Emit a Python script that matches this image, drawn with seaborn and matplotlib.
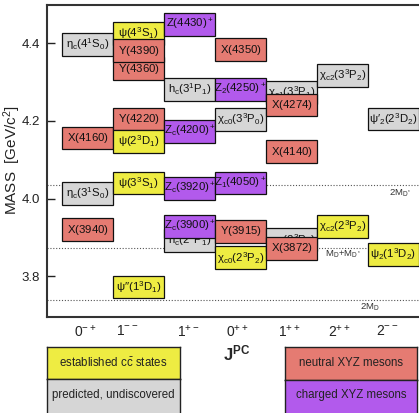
import matplotlib
matplotlib.use("Agg")
import matplotlib.pyplot as plt
import seaborn as sns

# ---------------- data ----------------
names = [
    r"$η_c(4^1S_0)$", r"$X(4160)$", r"$η_c(3^1S_0)$", r"$X(3940)$",
    r"$ψ(4^3S_1)$", r"$Y(4360)$", r"$Y(4390)$", r"$Y(4220)$", r"$ψ(2^3D_1)$",
    r"$ψ(3^3S_1)$", r"$ψ′′(1^3D_1)$",
    r"$Z(4430)^+$", r"$h_c(3^1P_1)$", r"$Z_c(4200)^+$", r"$Z_c(3920)^+$",
    r"$h_c(2^1P_1)$", r"$Z_c(3900)^+$",
    r"$X(4350)$", r"$Z_2(4250)^+$", r"$χ_{c0}(3^3P_0)$", r"$Z_1(4050)^+$",
    r"$Y(3915)$", r"$χ_{c0}(2^3P_2)$",
    r"$χ_{c1}(3^3P_1)$", r"$X(4274)$", r"$X(4140)$", r"$χ_{c1}(2^3P_1)$", r"$X(3872)$",
    r"$χ_{c2}(3^3P_2)$", r"$χ_{c2}(2^3P_2)$",
    r"$ψ′_2(2^3D_2)$", r"$ψ_2(1^3D_2)$",
]
cols = [0, 0, 0, 0,
        1, 1, 1, 1, 1, 1, 1,
        2, 2, 2, 2, 2, 2,
        3, 3, 3, 3, 3, 3,
        4, 4, 4, 4, 4,
        5, 5,
        6, 6]
masses = [4.397, 4.156, 4.014, 3.919,
          4.425, 4.335, 4.381, 4.205, 4.147, 4.040, 3.772,
          4.448, 4.281, 4.173, 4.026, 3.892, 3.928,
          4.384, 4.281, 4.204, 4.040, 3.916, 3.847,
          4.273, 4.241, 4.121, 3.894, 3.872,
          4.318, 3.928,
          4.205, 3.856]
kinds = ["pred", "neu", "pred", "neu",
         "est", "neu", "neu", "neu", "est", "est", "est",
         "chg", "pred", "chg", "chg", "pred", "chg",
         "neu", "chg", "pred", "chg", "neu", "est",
         "pred", "neu", "neu", "pred", "neu",
         "pred", "est",
         "pred", "est"]

jpc_labels = [r"$0^{-+}$", r"$1^{--}$", r"$1^{+-}$", r"$0^{++}$",
              r"$1^{++}$", r"$2^{++}$", r"$2^{--}$"]
thresh_names = [r"$2M_{D^*}$", r"$M_D{+}M_{D^*}$", r"$2M_D$"]
thresh_mass = [4.035, 3.872, 3.738]

legend_names = [r"established $c\bar{c}$ states", "predicted, undiscovered",
                "neutral XYZ mesons", "charged XYZ mesons"]
legend_kinds = ["est", "pred", "neu", "chg"]

# ---------------- style ----------------
sns.set_theme(style="white")
plt.rcParams["font.family"] = ["Liberation Sans", "DejaVu Sans"]
plt.rcParams["mathtext.fontset"] = "custom"
plt.rcParams["mathtext.rm"] = "Liberation Sans"
plt.rcParams["mathtext.it"] = "Liberation Sans:italic"
plt.rcParams["mathtext.bf"] = "Liberation Sans:bold"
plt.rcParams["mathtext.default"] = "regular"

palette = {"est": "#EEEC42", "pred": "#D6D6D6", "neu": "#E57B72", "chg": "#B25AEC"}

W, H = 419, 413
fig = plt.figure(figsize=(W / 100, H / 100), dpi=100)
fig.patch.set_facecolor("white")

ax = fig.add_axes([47 / W, 1 - 317 / H, (419 - 47) / W, 312 / H])
ax.set_facecolor("white")

box_h = 0.059
for i, (n, c, m, k) in enumerate(zip(names, cols, masses, kinds)):
    z = 3 + i
    ax.bar(c, box_h, bottom=m - box_h / 2, width=1.0, color=palette[k],
           edgecolor="#111111", linewidth=0.9, zorder=z)
    ax.text(c, m, n, ha="center", va="center", fontsize=8.2, color="#111111",
            zorder=z + 0.5, clip_on=True)

# thresholds
for tm in thresh_mass:
    ax.axhline(tm, color="#555555", lw=0.8, ls=(0, (1, 1.6)), zorder=1)
ax.text(6.13, thresh_mass[0] - 0.022, thresh_names[0], ha="center", va="center",
        fontsize=6.8, color="#333333", zorder=2)
ax.text(5.01, thresh_mass[1] - 0.016, thresh_names[1], ha="center", va="center",
        fontsize=6.8, color="#333333", zorder=2)
ax.text(5.54, thresh_mass[2] - 0.019, thresh_names[2], ha="center", va="center",
        fontsize=6.8, color="#333333", zorder=2)

ax.set_xlim(-0.794, 6.5)
ax.set_ylim(3.6946, 4.4987)
ax.set_yticks([3.8, 4.0, 4.2, 4.4])
ax.set_yticklabels(["3.8", "4.0", "4.2", "4.4"])
ax.set_xticks([-0.05, 0.78, 1.98, 2.93, 3.96, 4.94, 5.87])
ax.set_xticklabels(jpc_labels)
ax.tick_params(axis="y", direction="in", length=6, width=1.0, color="#222222",
               labelsize=9.5, pad=5, left=True, labelcolor="#222222")
ax.tick_params(axis="x", length=0, labelsize=10, pad=5, labelcolor="#222222")
for s in ["left", "bottom", "top"]:
    ax.spines[s].set_color("#333333")
    ax.spines[s].set_linewidth(1.5)
ax.spines["right"].set_visible(False)

ax.set_xlabel(r"$\mathbf{J}^{\mathbf{PC}}$", fontsize=12)
ax.xaxis.set_label_coords((237 - 47) / 372, -0.085)
fig.text(12 / W, 1 - 160 / H, "MASS  [GeV/c$^2$]", rotation=90, ha="center",
         va="center", fontsize=11, color="#222222")

# legend boxes
leg_px = [(47, 347, 133, 32), (47, 379, 133, 36), (285, 347, 132, 33), (285, 380, 132, 35)]
for (x0, y0, w, h), name, k in zip(leg_px, legend_names, legend_kinds):
    la = fig.add_axes([x0 / W, 1 - (y0 + h) / H, w / W, h / H])
    la.set_facecolor(palette[k])
    la.set_xticks([])
    la.set_yticks([])
    for s in la.spines.values():
        s.set_color("#222222")
        s.set_linewidth(1.0)
        s.set_visible(True)
    ty = 0.5 if h < 34 else 0.56
    la.text(0.5, ty, name, ha="center", va="center", fontsize=8.3,
            color="#222222", transform=la.transAxes)

fig.savefig("out.png", dpi=100, facecolor="white")
